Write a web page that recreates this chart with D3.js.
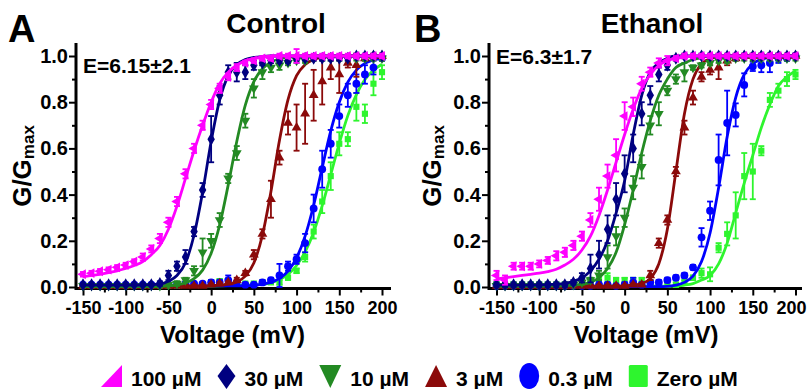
<!DOCTYPE html>
<html>
<head>
<meta charset="utf-8">
<script src="https://cdn.jsdelivr.net/npm/d3@7"></script>
<style>
  body { margin: 0; background: #fff; }
  text { font-family: Arial, "Liberation Sans", sans-serif; font-weight: bold; fill: #000; }
</style>
</head>
<body>
<svg id="chart" width="807" height="389"></svg>
<script>
// test voltages (mV)
var voltages = [-150,-140,-130,-120,-110,-100,-90,-80,-70,-60,-50,-40,-30,-20,-10,0,10,20,30,40,50,60,70,80,90,100,110,120,130,140,150,160,170,180,190,200];
var xTicks = [-150,-100,-50,0,50,100,150,200];
var xMinorTicks = [-125,-75,-25,25,75,125,175];
var yTicks = [0,0.2,0.4,0.6,0.8,1.0];
var yMinorTicks = [0.1,0.3,0.5,0.7,0.9];

var concLabels = ["100 µM","30 µM","10 µM","3 µM","0.3 µM","Zero µM"];
var concColors = ["#ff00ff","#000080","#238a23","#8b0a0a","#0000ff","#2ef52e"];
var concSymbols = ["left","diamond","down","up","circle","square"];

// ---- Control ----
var ctrl100    = [0.055,0.06,0.068,0.075,0.085,0.095,0.11,0.13,0.165,0.21,0.28,0.37,0.49,0.60,0.70,0.79,0.86,0.91,0.95,0.97,0.98,0.99,0.99,1,1,1,1,1,1,1,1,1,1,1,1,1];
var ctrl100Err = [0.01,0.01,0.01,0.01,0.01,0.01,0.01,0.015,0.015,0.02,0.02,0.02,0.02,0.02,0.02,0.02,0.02,0.015,0.015,0.01,0.01,0.01,0.01,0.01,0.01,0.03,0.01,0.01,0.01,0.01,0.01,0.01,0.01,0.01,0.01,0.01];
var ctrl100Fit = [0.045,0.05,0.055,0.062,0.07,0.08,0.093,0.11,0.14,0.18,0.25,0.35,0.47,0.59,0.70,0.80,0.88,0.93,0.96,0.98,0.99,0.995,1,1,1,1,1,1,1,1,1,1,1,1,1,1];

var ctrl30    = [0.01,0.01,0.01,0.01,0.01,0.01,0.01,0.01,0.01,0.015,0.05,0.09,0.13,0.24,0.42,0.64,0.83,0.93,0.93,0.93,0.96,0.97,0.98,0.98,0.98,0.99,0.99,0.99,0.99,0.99,0.99,0.99,1,1,1,1];
var ctrl30Err = [0.005,0.005,0.005,0.005,0.005,0.005,0.005,0.005,0.005,0.01,0.02,0.02,0.03,0.02,0.03,0.1,0.04,0.03,0.04,0.03,0.02,0.01,0.01,0.01,0.01,0.01,0.01,0.01,0.01,0.01,0.01,0.01,0.01,0.01,0.01,0.01];
var ctrl30Fit = [0.008,0.008,0.008,0.008,0.008,0.008,0.008,0.009,0.01,0.013,0.025,0.05,0.105,0.225,0.41,0.63,0.81,0.915,0.963,0.985,0.994,0.998,1,1,1,1,1,1,1,1,1,1,1,1,1,1];

var ctrl10    = [0.005,0.005,0.005,0.005,0.005,0.005,0.005,0.005,0.005,0.005,0.01,0.015,0.03,0.07,0.15,0.20,0.29,0.47,0.58,0.72,0.86,0.93,0.95,0.96,0.97,0.98,0.98,0.99,0.99,0.99,0.99,0.99,0.99,0.99,0.99,0.99];
var ctrl10Err = [0.005,0.005,0.005,0.005,0.005,0.005,0.005,0.005,0.005,0.005,0.005,0.01,0.01,0.02,0.06,0.03,0.03,0.02,0.03,0.03,0.04,0.03,0.02,0.02,0.01,0.01,0.01,0.01,0.01,0.01,0.01,0.01,0.01,0.01,0.01,0.01];
var ctrl10Fit = [0.002,0.002,0.002,0.002,0.002,0.002,0.002,0.002,0.002,0.003,0.005,0.009,0.018,0.036,0.073,0.146,0.269,0.442,0.63,0.787,0.889,0.945,0.973,0.988,0.994,0.997,1,1,1,1,1,1,1,1,1,1];

var ctrl3    = [0.005,0.005,0.005,0.005,0.005,0.005,0.005,0.005,0.005,0.005,0.005,0.005,0.005,0.005,0.005,0.01,0.015,0.02,0.03,0.06,0.14,0.23,0.38,0.56,0.71,0.69,0.75,0.83,0.89,0.95,0.92,0.97,0.96,0.99,1,1];
var ctrl3Err = [0.005,0.005,0.005,0.005,0.005,0.005,0.005,0.005,0.005,0.005,0.005,0.005,0.005,0.005,0.005,0.005,0.005,0.005,0.01,0.01,0.02,0.02,0.08,0.03,0.05,0.1,0.13,0.11,0.1,0.05,0.08,0.02,0.05,0.01,0.01,0.01];
var ctrl3Fit = [0.005,0.005,0.005,0.005,0.005,0.005,0.005,0.005,0.005,0.005,0.005,0.005,0.005,0.005,0.005,0.006,0.008,0.012,0.022,0.047,0.104,0.224,0.413,0.635,0.811,0.915,0.963,0.985,0.994,0.998,1,1,1,1,1,1];

var ctrl03    = [0.01,0.01,0.01,0.01,0.01,0.01,0.01,0.01,0.01,0.01,0.01,0.01,0.015,0.015,0.015,0.02,0.02,0.03,0.02,0.01,0.01,0.02,0.03,0.05,0.09,0.12,0.19,0.34,0.51,0.62,0.74,0.83,0.88,0.92,0.95,0.99];
var ctrl03Err = [0.005,0.005,0.005,0.005,0.005,0.005,0.005,0.005,0.005,0.005,0.005,0.005,0.005,0.005,0.005,0.01,0.01,0.02,0.01,0.005,0.005,0.01,0.01,0.05,0.02,0.02,0.04,0.06,0.08,0.06,0.05,0.05,0.04,0.04,0.03,0.01];
var ctrl03Fit = [0.005,0.005,0.005,0.005,0.005,0.005,0.005,0.005,0.005,0.005,0.005,0.005,0.005,0.005,0.005,0.005,0.005,0.005,0.005,0.005,0.007,0.012,0.02,0.037,0.069,0.126,0.22,0.354,0.517,0.676,0.80,0.887,0.939,0.968,0.983,0.991];

var ctrl0    = [0.005,0.005,0.005,0.005,0.005,0.005,0.005,0.005,0.005,0.005,0.005,0.005,0.01,0.01,0.01,0.02,0.025,0.02,0.015,0.015,0.015,0.02,0.02,0.02,0.04,0.07,0.13,0.24,0.37,0.48,0.62,0.64,0.78,0.75,0.88,0.93];
var ctrl0Err = [0.005,0.005,0.005,0.005,0.005,0.005,0.005,0.005,0.005,0.005,0.005,0.005,0.005,0.005,0.005,0.01,0.01,0.01,0.005,0.005,0.005,0.005,0.005,0.01,0.01,0.01,0.02,0.03,0.05,0.06,0.05,0.03,0.06,0.04,0.05,0.03];
var ctrl0Fit = [0.003,0.003,0.003,0.003,0.003,0.003,0.003,0.003,0.003,0.003,0.003,0.003,0.003,0.003,0.003,0.004,0.005,0.006,0.007,0.008,0.009,0.011,0.019,0.033,0.055,0.093,0.152,0.237,0.352,0.486,0.622,0.742,0.833,0.898,0.938,0.964];

// ---- Ethanol ----
var eth100    = [0.05,0.03,0.09,0.09,0.09,0.10,0.115,0.135,0.15,0.18,0.22,0.29,0.38,0.48,0.57,0.74,0.78,0.88,0.93,0.97,0.98,0.99,1,1,1,1,1,1,1,1,1,1,1,1,1,1];
var eth100Err = [0.02,0.02,0.015,0.015,0.015,0.015,0.015,0.02,0.02,0.02,0.02,0.03,0.05,0.05,0.07,0.06,0.04,0.03,0.02,0.02,0.02,0.01,0.01,0.01,0.01,0.01,0.01,0.01,0.01,0.01,0.01,0.01,0.01,0.01,0.01,0.01];
var eth100Fit = [0.035,0.04,0.045,0.05,0.055,0.06,0.067,0.077,0.095,0.12,0.16,0.22,0.31,0.42,0.54,0.66,0.77,0.86,0.92,0.96,0.98,0.99,0.995,1,1,1,1,1,1,1,1,1,1,1,1,1];

var eth30    = [0.01,0.01,0.01,0.01,0.01,0.01,0.01,0.01,0.01,0.02,0.04,0.08,0.14,0.25,0.38,0.49,0.60,0.75,0.83,0.92,0.96,0.99,1,1,1,1,1,1,1,1,1,1,1,1,1,1];
var eth30Err = [0.01,0.01,0.01,0.01,0.01,0.01,0.01,0.01,0.01,0.01,0.02,0.06,0.06,0.06,0.07,0.08,0.06,0.05,0.04,0.03,0.02,0.01,0.01,0.01,0.01,0.01,0.01,0.01,0.01,0.01,0.01,0.01,0.01,0.01,0.01,0.01];
var eth30Fit = [0.008,0.008,0.008,0.008,0.008,0.009,0.01,0.012,0.016,0.024,0.04,0.07,0.12,0.2,0.32,0.46,0.66,0.83,0.93,0.97,0.99,1,1,1,1,1,1,1,1,1,1,1,1,1,1,1];

var eth10    = [0.005,0.005,0.005,0.005,0.005,0.005,0.005,0.005,0.005,0.01,0.02,0.03,0.05,0.13,0.22,0.30,0.43,0.52,0.70,0.75,0.85,0.90,0.93,0.95,0.96,0.97,0.98,0.98,0.99,0.99,0.99,0.99,0.99,0.99,0.99,0.99];
var eth10Err = [0.005,0.005,0.005,0.005,0.005,0.005,0.005,0.005,0.005,0.005,0.01,0.01,0.02,0.05,0.04,0.04,0.05,0.05,0.04,0.05,0.02,0.02,0.04,0.01,0.01,0.01,0.01,0.01,0.01,0.01,0.01,0.01,0.01,0.01,0.01,0.01];
var eth10Fit = [0.003,0.003,0.003,0.003,0.003,0.003,0.004,0.005,0.006,0.008,0.012,0.02,0.04,0.08,0.15,0.27,0.42,0.58,0.72,0.83,0.9,0.95,0.97,0.985,0.993,1,1,1,1,1,1,1,1,1,1,1];

var eth3    = [0.005,0.005,0.005,0.005,0.005,0.005,0.005,0.005,0.005,0.005,0.005,0.005,0.005,0.005,0.005,0.005,0.01,0.01,0.05,0.19,0.29,0.50,0.69,0.82,0.91,0.94,0.95,0.98,0.99,1,1,1,1,1,1,1];
var eth3Err = [0.005,0.005,0.005,0.005,0.005,0.005,0.005,0.005,0.005,0.005,0.005,0.005,0.005,0.005,0.005,0.005,0.005,0.005,0.02,0.02,0.02,0.02,0.03,0.03,0.02,0.02,0.05,0.02,0.01,0.01,0.01,0.01,0.01,0.01,0.01,0.01];
var eth3Fit = [0.004,0.004,0.004,0.004,0.004,0.004,0.004,0.004,0.004,0.004,0.004,0.004,0.004,0.004,0.004,0.005,0.008,0.015,0.036,0.1,0.25,0.5,0.75,0.9,0.966,0.988,0.996,1,1,1,1,1,1,1,1,1];

var eth03    = [0.005,0.005,0.005,0.005,0.005,0.005,0.005,0.005,0.005,0.005,0.005,0.005,0.01,0.01,0.005,0.01,0.02,0.01,0.02,0.02,0.03,0.04,0.05,0.085,0.215,0.33,0.55,0.71,0.745,0.875,0.955,0.96,0.97,0.99,0.99,1];
var eth03Err = [0.005,0.005,0.005,0.005,0.005,0.005,0.005,0.005,0.005,0.005,0.005,0.005,0.01,0.01,0.005,0.01,0.02,0.01,0.01,0.01,0.01,0.01,0.01,0.01,0.04,0.04,0.11,0.14,0.05,0.05,0.02,0.03,0.04,0.02,0.01,0.01];
var eth03Fit = [0.002,0.002,0.002,0.002,0.002,0.002,0.002,0.002,0.002,0.002,0.002,0.002,0.002,0.002,0.002,0.002,0.002,0.002,0.002,0.002,0.003,0.008,0.02,0.047,0.11,0.234,0.43,0.65,0.82,0.92,0.966,0.986,0.994,0.998,1,1];

var eth0    = [0.01,0.01,0.01,0.01,0.01,0.01,0.01,0.01,0.01,0.01,0.02,0.03,0.035,0.04,0.03,0.03,0.03,0.03,0.02,0.01,0.01,0.01,0.02,0.04,0.06,0.055,0.17,0.23,0.31,0.48,0.50,0.59,0.81,0.85,0.90,0.92];
var eth0Err = [0.01,0.01,0.01,0.01,0.01,0.01,0.01,0.01,0.01,0.01,0.01,0.01,0.02,0.02,0.01,0.01,0.01,0.01,0.01,0.01,0.01,0.01,0.01,0.01,0.02,0.03,0.02,0.05,0.1,0.1,0.12,0.02,0.03,0.03,0.03,0.02];
var eth0Fit = [0.004,0.004,0.004,0.004,0.004,0.004,0.004,0.004,0.004,0.004,0.004,0.004,0.004,0.004,0.004,0.004,0.004,0.004,0.004,0.004,0.004,0.004,0.008,0.015,0.03,0.05,0.1,0.19,0.32,0.45,0.57,0.69,0.79,0.87,0.91,0.935];

var panels = [
    { letter: "A", title: "Control", energy: "E=6.15±2.1",
      yAxisX: 76, xEnd: 391, x150: 83, x200: 382, letterX: 8, titleX: 276, energyY: 73, yLabelX: 31,
      values: [ctrl100, ctrl30, ctrl10, ctrl3, ctrl03, ctrl0],
      errors: [ctrl100Err, ctrl30Err, ctrl10Err, ctrl3Err, ctrl03Err, ctrl0Err],
      fits: [ctrl100Fit, ctrl30Fit, ctrl10Fit, ctrl3Fit, ctrl03Fit, ctrl0Fit] },
    { letter: "B", title: "Ethanol", energy: "E=6.3±1.7",
      yAxisX: 489, xEnd: 802, x150: 496.5, x200: 795.5, letterX: 414, titleX: 652, energyY: 64, yLabelX: 441,
      values: [eth100, eth30, eth10, eth3, eth03, eth0],
      errors: [eth100Err, eth30Err, eth10Err, eth3Err, eth03Err, eth0Err],
      fits: [eth100Fit, eth30Fit, eth10Fit, eth3Fit, eth03Fit, eth0Fit] }
];

var svg = d3.select("#chart");
var axisY = 288.5;
var y = d3.scaleLinear().domain([0, 1]).range([287, 56]);

function markerPath(kind) {
    if (kind == "diamond") return d3.symbol().type(d3.symbolDiamond).size(48)();
    if (kind == "circle") return d3.symbol().type(d3.symbolCircle).size(48)();
    if (kind == "square") return d3.symbol().type(d3.symbolSquare).size(38)();
    return d3.symbol().type(d3.symbolTriangle).size(42)();
}
function markerRotate(kind) {
    if (kind == "down") return 180;
    if (kind == "left") return -90;
    return 0;
}

function drawPanel(p) {
    var x = d3.scaleLinear().domain([-150, 200]).range([p.x150, p.x200]);
    var g = svg.append("g");

    // bottom axis: major with labels, minor without
    var xMajor = g.append("g").attr("transform", "translate(0," + axisY + ")")
        .call(d3.axisBottom(x).tickValues(xTicks).tickSize(7).tickPadding(6).tickSizeOuter(0)
            .tickFormat(function(d) { return String(d); }));
    var xMinor = g.append("g").attr("transform", "translate(0," + axisY + ")")
        .call(d3.axisBottom(x).tickValues(xMinorTicks).tickSize(4).tickFormat(""));
    var yMajor = g.append("g").attr("transform", "translate(" + p.yAxisX + ",0)")
        .call(d3.axisLeft(y).tickValues(yTicks).tickSize(7).tickPadding(1).tickFormat(d3.format(".1f")));
    var yMinor = g.append("g").attr("transform", "translate(" + p.yAxisX + ",0)")
        .call(d3.axisLeft(y).tickValues(yMinorTicks).tickSize(4).tickFormat(""));

    [xMajor, xMinor, yMajor, yMinor].forEach(function(ax) {
        ax.select(".domain").remove();
        ax.selectAll(".tick line").attr("stroke", "#000").attr("stroke-width", 2);
        ax.selectAll(".tick text").attr("fill", "#000")
            .attr("font-family", "Arial, 'Liberation Sans', sans-serif").attr("font-weight", "bold");
    });
    xMajor.selectAll(".tick text").attr("font-size", 18);
    yMajor.selectAll(".tick text").attr("font-size", 20);

    // keep the last tick label inside the picture
    xMajor.selectAll(".tick text").each(function(d) {
        var right = x(d) + this.getComputedTextLength() / 2;
        if (right > 806) d3.select(this).attr("dx", 806 - right);
    });

    // axis lines
    g.append("line").attr("x1", p.yAxisX).attr("x2", p.xEnd).attr("y1", axisY).attr("y2", axisY)
        .attr("stroke", "#000").attr("stroke-width", 3);
    g.append("line").attr("x1", p.yAxisX).attr("x2", p.yAxisX).attr("y1", axisY + 1.5).attr("y2", 43)
        .attr("stroke", "#000").attr("stroke-width", 3);

    var line = d3.line()
        .x(function(d, i) { return x(voltages[i]); })
        .y(function(d) { return y(d); })
        .curve(d3.curveMonotoneX);

    // lowest concentration first so 100 µM sits on top
    for (var s = concLabels.length - 1; s >= 0; s--) {
        var color = concColors[s];
        var pts = p.values[s].map(function(v, i) {
            return { v: voltages[i], g: v, e: p.errors[s][i] };
        });
        var sg = g.append("g");

        var bars = sg.selectAll(".err").data(pts).enter().append("g");
        bars.append("line")
            .attr("x1", function(d) { return x(d.v); }).attr("x2", function(d) { return x(d.v); })
            .attr("y1", function(d) { return y(d.g - d.e); }).attr("y2", function(d) { return y(d.g + d.e); })
            .attr("stroke", color).attr("stroke-width", 1.8);
        bars.append("line")
            .attr("x1", function(d) { return x(d.v) - 3; }).attr("x2", function(d) { return x(d.v) + 3; })
            .attr("y1", function(d) { return y(d.g + d.e); }).attr("y2", function(d) { return y(d.g + d.e); })
            .attr("stroke", color).attr("stroke-width", 1.8);
        bars.append("line")
            .attr("x1", function(d) { return x(d.v) - 3; }).attr("x2", function(d) { return x(d.v) + 3; })
            .attr("y1", function(d) { return y(d.g - d.e); }).attr("y2", function(d) { return y(d.g - d.e); })
            .attr("stroke", color).attr("stroke-width", 1.8);

        var kind = concSymbols[s];
        sg.selectAll(".pt").data(pts).enter().append("path")
            .attr("d", markerPath(kind))
            .attr("transform", function(d) {
                return "translate(" + x(d.v) + "," + y(d.g) + ") rotate(" + markerRotate(kind) + ")";
            })
            .attr("fill", color);

        sg.append("path").datum(p.fits[s])
            .attr("d", line)
            .attr("fill", "none").attr("stroke", color).attr("stroke-width", 2.8);
    }

    // texts
    g.append("text").attr("x", p.letterX).attr("y", 42).attr("font-size", 38).text(p.letter);
    g.append("text").attr("x", p.titleX).attr("y", 33)
        .attr("text-anchor", "middle").attr("font-size", 28).text(p.title);
    g.append("text").attr("x", p.yAxisX + 7).attr("y", p.energyY).attr("font-size", 21).text(p.energy);
    g.append("text").attr("x", (p.x150 + p.x200) / 2).attr("y", 343)
        .attr("text-anchor", "middle").attr("font-size", 24).text("Voltage (mV)");

    var yl = g.append("text").attr("transform", "translate(" + p.yLabelX + ",166) rotate(-90)")
        .attr("text-anchor", "middle").attr("font-size", 26);
    yl.append("tspan").text("G/G");
    yl.append("tspan").attr("font-size", 17).attr("dy", 3).text("max");
}

panels.forEach(drawPanel);

// legend
var legend = svg.append("g");
var lx = 101, ly = 365;
concLabels.forEach(function(label, i) {
    var c = concColors[i];
    var k = concSymbols[i];
    var w = 21;
    if (k == "left") {
        legend.append("path").attr("d", "M" + (lx + 21) + "," + ly + "L" + (lx + 21) + "," + (ly + 22) + "L" + lx + "," + (ly + 22) + "Z").attr("fill", c);
    } else if (k == "diamond") {
        w = 18;
        legend.append("path").attr("d", "M" + (lx + 9) + "," + (ly - 1) + "L" + (lx + 18) + "," + (ly + 11) + "L" + (lx + 9) + "," + (ly + 24) + "L" + lx + "," + (ly + 11) + "Z").attr("fill", c);
    } else if (k == "down") {
        w = 22;
        legend.append("path").attr("d", "M" + lx + "," + ly + "L" + (lx + 22) + "," + ly + "L" + (lx + 11) + "," + (ly + 23) + "Z").attr("fill", c);
    } else if (k == "up") {
        w = 22;
        legend.append("path").attr("d", "M" + (lx + 11) + "," + ly + "L" + (lx + 22) + "," + (ly + 22) + "L" + lx + "," + (ly + 22) + "Z").attr("fill", c);
    } else if (k == "circle") {
        w = 20;
        legend.append("ellipse").attr("cx", lx + 10).attr("cy", ly + 11).attr("rx", 10).attr("ry", 13).attr("fill", c);
    } else {
        w = 19;
        legend.append("rect").attr("x", lx).attr("y", ly).attr("width", 19).attr("height", 22).attr("rx", 1.5).attr("fill", c);
    }
    var t = legend.append("text").attr("x", lx + w + 9).attr("y", ly + 21).attr("font-size", 21).text(label);
    lx = lx + w + 9 + t.node().getComputedTextLength() + 16;
});
</script>
</body>
</html>
